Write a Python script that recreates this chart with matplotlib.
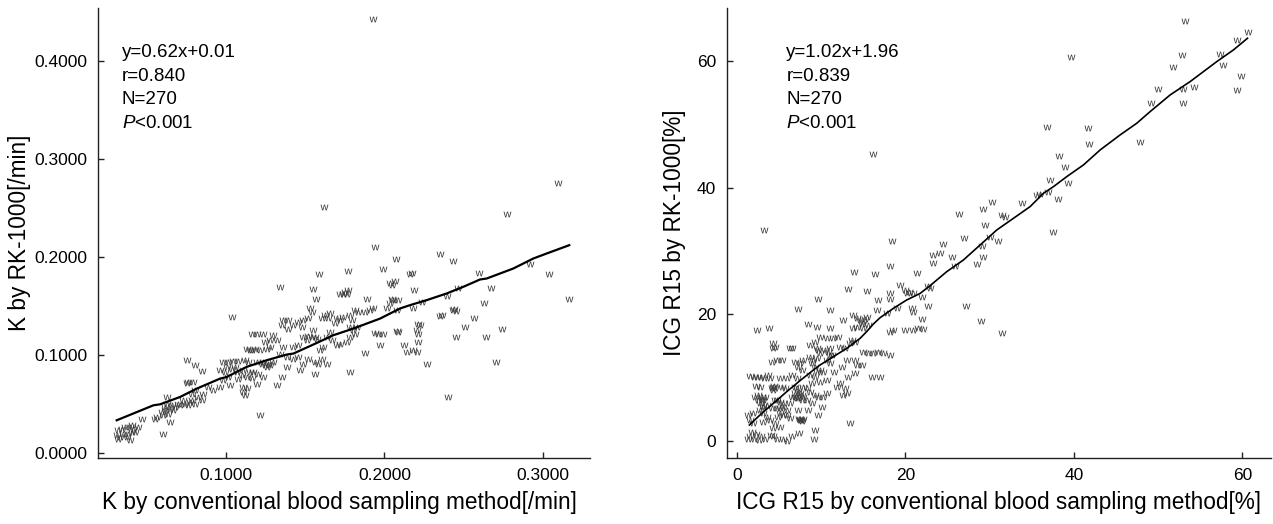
import numpy as np
import matplotlib
matplotlib.use("Agg")
import matplotlib.pyplot as plt

plt.rcParams['font.family'] = ['Liberation Sans', 'DejaVu Sans']
plt.rcParams['mathtext.fontset'] = 'custom'
plt.rcParams['mathtext.rm'] = 'Liberation Sans'
plt.rcParams['mathtext.it'] = 'Liberation Sans:italic'

# ---------------- data: left panel (K value) ----------------
k_points = [
    (0.1036,0.1387),(0.1162,0.1217),(0.1130,0.1064),(0.1162,0.1047),(0.0752,0.0945),(0.0804,0.0894),
    (0.0846,0.0836),(0.0983,0.0928),(0.1015,0.0928),(0.1046,0.0938),(0.1078,0.0935),(0.1120,0.0945),
    (0.1141,0.0928),(0.0962,0.0843),(0.0994,0.0826),(0.1036,0.0860),(0.1067,0.0826),(0.1099,0.0792),
    (0.1130,0.0775),(0.1162,0.0768),(0.1015,0.0775),(0.1078,0.0758),(0.0983,0.0741),(0.1130,0.0666),
    (0.1120,0.0587),(0.1025,0.0690),(0.0962,0.0672),(0.0920,0.0638),(0.0889,0.0672),(0.0857,0.0604),
    (0.0825,0.0570),(0.0783,0.0536),(0.0762,0.0724),(0.0794,0.0724),(0.0752,0.0714),(0.0804,0.0638),
    (0.0783,0.0604),(0.0804,0.0502),(0.0846,0.0536),(0.0731,0.0536),(0.0741,0.0502),(0.0699,0.0502),
    (0.0626,0.0570),(0.0626,0.0502),(0.0615,0.0434),(0.0657,0.0485),(0.0636,0.0400),(0.0678,0.0468),
    (0.0710,0.0485),(0.0594,0.0417),(0.0605,0.0383),(0.0552,0.0349),(0.0563,0.0366),(0.0647,0.0315),
    (0.0605,0.0196),(0.0468,0.0349),(0.0447,0.0264),(0.0394,0.0264),(0.0405,0.0213),(0.0384,0.0196),
    (0.0342,0.0247),(0.0321,0.0230),(0.0310,0.0179),(0.0331,0.0162),(0.0373,0.0162),(0.0394,0.0135),
    (0.0321,0.0145),(0.0415,0.0247),(0.0426,0.0213),(0.0352,0.0196),(0.0363,0.0264),(0.0405,0.0281),
    (0.0647,0.0451),(0.0668,0.0434),(0.0615,0.0468),(0.0773,0.0519),(0.0762,0.0485),(0.1109,0.0843),
    (0.1151,0.0826),(0.1057,0.0877),(0.1004,0.0877),
    (0.1940,0.2102),(0.2070,0.1983),(0.1993,0.1871),(0.2161,0.1830),(0.2175,0.1837),(0.1767,0.1857),
    (0.1587,0.1830),(0.1341,0.1694),(0.1551,0.1677),(0.1566,0.1568),(0.1719,0.1619),(0.1751,0.1643),
    (0.1772,0.1660),(0.1761,0.1626),(0.1740,0.1626),(0.1887,0.1575),(0.2035,0.1738),(0.2066,0.1755),
    (0.2045,0.1711),(0.2188,0.1660),(0.2045,0.1575),(0.2056,0.1558),(0.2087,0.1558),(0.2035,0.1524),
    (0.2014,0.1473),(0.2077,0.1456),(0.2235,0.1541),(0.1530,0.1483),(0.1541,0.1439),(0.1519,0.1381),
    (0.1656,0.1428),(0.1625,0.1405),(0.1646,0.1371),(0.1604,0.1381),(0.1698,0.1371),(0.1719,0.1354),
    (0.1688,0.1326),(0.1740,0.1388),(0.1782,0.1405),(0.1814,0.1456),(0.1835,0.1439),(0.1877,0.1439),
    (0.1908,0.1456),(0.1930,0.1483),(0.1782,0.1285),(0.1803,0.1251),(0.1824,0.1285),(0.1793,0.1354),
    (0.1362,0.1360),(0.1393,0.1354),(0.1351,0.1302),(0.1393,0.1268),(0.1425,0.1302),(0.1456,0.1336),
    (0.1488,0.1354),(0.1477,0.1285),(0.1193,0.1217),(0.1236,0.1217),(0.1299,0.1200),(0.1278,0.1149),
    (0.1246,0.1132),(0.1320,0.1149),(0.1488,0.1183),(0.1519,0.1190),(0.1541,0.1183),(0.1562,0.1183),
    (0.1572,0.1166),(0.1509,0.1149),(0.1551,0.1251),(0.1656,0.1234),(0.1635,0.1183),(0.1667,0.1149),
    (0.1719,0.1115),(0.1761,0.1132),(0.1698,0.1098),(0.1782,0.1183),(0.1814,0.1210),(0.1940,0.1224),
    (0.1961,0.1217),(0.1993,0.1217),(0.1972,0.1098),(0.1877,0.1020),(0.2077,0.1244),(0.2087,0.1234),
    (0.2214,0.1319),(0.2224,0.1302),(0.2203,0.1251),(0.2214,0.1217),(0.2214,0.1132),(0.2182,0.1047),
    (0.2140,0.1030),(0.2123,0.1098),(0.2203,0.1030),(0.1151,0.1047),(0.1183,0.1064),(0.1215,0.1054),
    (0.1257,0.1064),(0.1278,0.1081),(0.1193,0.0928),(0.1225,0.0911),(0.1246,0.0894),(0.1267,0.0911),
    (0.1299,0.0928),(0.1257,0.0877),(0.1236,0.0928),(0.1278,0.0894),(0.1172,0.0826),(0.1204,0.0809),
    (0.1236,0.0775),(0.1193,0.0707),(0.1351,0.0775),(0.1320,0.0690),(0.1383,0.0877),(0.1425,0.0962),
    (0.1456,0.0979),(0.1467,0.0843),(0.1488,0.0911),(0.1519,0.0962),(0.1562,0.0928),(0.1583,0.0911),
    (0.1604,0.0962),(0.1635,0.0911),(0.1562,0.0809),(0.1593,0.1047),(0.1614,0.1081),(0.1782,0.0826),
    (0.1456,0.1098),(0.1425,0.1081),(0.1362,0.1081),(0.1341,0.1013),(0.1383,0.0979),
    (0.1215,0.0390),(0.1110,0.0620),(0.1110,0.0670),(0.2182,0.1483),
    (0.3092,0.2756),(0.2771,0.2436),(0.2350,0.2034),(0.2434,0.1956),(0.2598,0.1840),(0.2918,0.1932),
    (0.3038,0.1823),(0.3166,0.1568),(0.2672,0.1684),(0.2630,0.1524),(0.2466,0.1687),(0.2392,0.1599),
    (0.2434,0.1460),(0.2450,0.1446),(0.2440,0.1470),(0.2350,0.1394),(0.2360,0.1405),(0.2565,0.1377),
    (0.2508,0.1285),(0.2739,0.1261),(0.2451,0.1183),(0.2640,0.1183),(0.2704,0.0925),(0.2403,0.0570),
    (0.2266,0.0911),(0.1929,0.4425),(0.1620,0.2505),
]
k_fit_x = [0.0310,0.0542,0.0584,0.0710,0.0815,0.0962,0.1004,0.1130,0.1257,0.1383,0.1425,0.1551,
           0.1677,0.1803,0.1972,0.2098,0.2161,0.2266,0.2392,0.2497,0.2603,0.2645,0.2813,0.2939,
           0.3023,0.3166]
k_fit_y = [0.0332,0.0485,0.0495,0.0570,0.0655,0.0757,0.0774,0.0877,0.0945,0.1003,0.1013,0.1105,
           0.1200,0.1268,0.1370,0.1473,0.1507,0.1558,0.1626,0.1694,0.1769,0.1779,0.1881,0.1983,
           0.2034,0.2119]
k_stats = ["y=0.62x+0.01", "r=0.840", "N=270", r"$\it{P}$<0.001"]
k_xticks = [0.1, 0.2, 0.3]
k_yticks = [0.0, 0.1, 0.2, 0.3, 0.4]

# ---------------- data: right panel (ICG R15) ----------------
r15_points = [
    (1.3,0.3),(1.8,1.5),(2.0,0.3),(2.3,1.2),(2.6,0.2),(3.3,0.3),(4.3,0.8),(4.7,0.3),(5.5,0.3),(5.9,0.1),
    (7.3,1.3),(9.1,0.3),(9.3,1.8),(2.8,0.9),(6.5,0.8),(1.6,0.9),(4.0,1.0),
    (1.35,4.15),(1.94,4.41),(1.54,3.36),(1.94,2.83),(3.13,4.41),(3.52,3.88),(3.13,3.1),(3.92,3.36),
    (4.51,2.83),(4.31,2.04),(5.1,2.3),(4.91,3.88),(5.1,4.41),(5.9,4.15),(6.29,3.62),(7.48,3.46),
    (7.68,3.25),(7.35,3.5),(7.6,3.4),(7.8,3.5),(7.5,3.3),(9.66,4.15),(13.42,2.94),
    (2.14,7.04),(2.53,7.3),(2.93,7.04),(3.13,6.51),(2.73,5.98),(3.13,5.46),(3.33,7.04),(4.51,6.51),
    (4.71,5.2),(6.89,7.04),(7.28,6.77),(7.68,6.51),(7.88,7.04),(10.05,5.46),(10.25,7.04),(9.66,7.04),
    (9.27,7.3),(8.67,7.82),(6.29,5.98),(5.5,5.46),(3.52,5.72),(4.12,5.2),(2.53,6.5),(2.93,6.5),
    (3.13,5.5),(2.73,4.9),(4.71,6.5),(5.1,6.25),(5.5,5.99),(5.1,5.2),(5.9,4.9),(5.5,4.15),(6.49,7.04),
    (6.89,7.57),(7.09,6.78),(8.27,6.5),(8.87,6.0),(8.47,4.95),(7.28,4.95),
    (2.2,8.7),(2.7,8.5),(3.92,9.93),(4.12,8.35),(4.31,8.09),(4.51,8.35),(4.24,8.6),(4.4,8.7),(5.1,9.93),
    (5.9,9.93),(5.31,8.6),(5.7,8.35),(6.89,8.6),(7.09,8.35),(7.28,7.82),(7.48,7.56),(7.68,7.3),
    (7.88,8.6),(8.27,8.35),(10.65,7.56),(11.84,8.6),(12.23,9.14),(12.83,8.35),(12.63,7.3),(13.03,7.56),
    (1.5,10.3),(2.0,10.2),(2.4,10.1),(2.8,10.2),(3.2,10.0),(3.72,10.45),(6.49,10.45),(7.09,9.93),
    (8.67,10.45),(9.27,10.19),(9.86,9.4),(8.87,9.14),(10.65,9.66),
    (9.46,14.65),(9.66,14.39),(10.85,14.13),(11.05,13.6),(12.23,14.92),(12.83,14.65),(4.12,12.55),
    (4.71,12.82),(5.31,12.82),(6.89,12.55),(7.48,12.29),(7.88,12.82),(7.28,11.76),(7.68,11.24),
    (8.67,13.34),(9.07,12.82),(9.46,13.08),(8.87,12.29),(9.27,11.76),(9.86,11.24),(9.46,10.98),
    (10.25,10.98),(10.65,12.82),(11.05,12.29),(9.86,13.87),(14.01,12.82),(14.21,12.03),(14.8,12.03),
    (14.01,10.71),(15.99,10.08),(16.98,10.19),(15.0,14.13),(15.6,13.87),(16.2,13.87),(16.78,14.13),
    (17.38,13.87),(18.17,13.6),(12.43,11.76),(13.03,12.82),(13.2,10.2),(11.5,11.0),
    (4.31,14.65),(4.51,14.92),(6.49,14.65),(9.86,16.49),(10.65,16.23),(11.44,16.23),(12.04,16.39),
    (13.62,15.97),(14.01,15.7),(13.42,15.44),(8.47,18.44),(9.46,18.07),(11.05,17.81),(12.63,19.12),
    (13.82,19.91),(14.21,19.38),(14.61,19.12),(15.0,18.86),(15.4,19.65),(14.21,18.07),(15.0,17.81),
    (15.6,18.33),(13.82,17.81),(2.34,17.55),(3.84,17.91),(9.26,15.71),(10.45,14.4),(11.05,14.66),
    (11.24,13.61),(4.3,15.45),(6.3,14.66),(8.67,15.19),(14.8,18.5),(15.2,19.3),
    (18.17,27.63),(13.89,26.64),(16.39,26.37),(21.34,26.58),(13.22,23.96),(15.40,23.69),(19.36,24.64),
    (20.47,23.59),(18.17,23.33),(16.78,22.28),(18.17,22.38),(9.66,22.38),(7.20,20.80),(11.05,20.70),
    (16.59,20.70),(17.77,20.28),(20.15,23.33),(20.86,23.33),(20.74,20.96),(20.86,20.43),(18.96,20.96),
    (19.95,17.55),(20.94,17.55),(21.54,17.81),(18.17,17.28),(18.57,17.55),
    (36.77,49.49),(38.28,44.97),(38.95,43.29),(37.17,41.19),(39.35,40.77),(38.16,38.25),(35.59,38.83),
    (35.98,38.98),(36.97,39.35),(37.57,33.05),(30.32,37.78),(29.17,36.57),(31.43,35.67),(31.83,35.31),
    (33.81,37.51),(26.36,35.78),(29.45,34.1),(27.0,32.1),(30.04,32.15),(31.03,31.63),(29.05,30.79),
    (29.17,29.11),(28.54,27.95),(24.5,31.1),(23.24,29.37),(24.11,29.63),(23.31,28.16),(25.49,29.0),
    (25.89,27.63),(18.37,31.63),(19.95,23.85),(22.72,24.48),(22.92,24.12),(21.93,22.8),(22.72,21.33),
    (27.19,21.33),(21.93,19.23),(28.98,18.96),(31.43,17.02),(22.13,17.65),
    (53.2,66.3),(39.6,60.53),(52.81,60.9),(51.82,59.06),(60.72,64.58),(59.34,63.26),(57.36,61.06),
    (57.68,59.32),(59.81,57.59),(59.42,55.38),(50.04,55.59),(53.0,55.49),(54.27,55.8),(49.17,53.38),
    (52.93,53.38),(41.64,49.44),(41.84,46.87),(47.86,47.13),
    (16.2,45.3),(3.2,33.3),
]
r15_fit_x = [1.47,2.73,4.31,5.9,7.48,9.07,9.86,11.44,13.03,14.61,15.4,16.2,17.0,18.57,20.15,21.73,
             22.92,24.9,26.88,28.86,30.84,32.82,34.8,36.38,37.57,39.15,41.13,43.11,45.48,47.46,
             49.05,51.42,53.8,56.17,56.96,58.94,60.61]
r15_fit_y = [2.57,4.15,5.98,7.82,9.56,11.24,12.03,13.34,14.65,16.23,17.3,18.5,19.5,20.96,22.28,
             23.3,24.53,26.74,28.58,30.94,33.31,35.15,36.99,39.09,40.14,41.72,43.56,45.92,48.29,
             50.13,51.97,54.59,56.7,59.06,59.85,61.69,63.53]
r15_stats = ["y=1.02x+1.96", "r=0.839", "N=270", r"$\it{P}$<0.001"]
r15_ticks = [0, 20, 40, 60]

# ---------------- figure ----------------
W, H = 1273, 524
fig = plt.figure(figsize=(W / 100, H / 100), dpi=100)
bottom = (H - 458.3) / H
height = (458.3 - 8) / H
ax1 = fig.add_axes([98.3 / W, bottom, (590 - 98.3) / W, height])
ax2 = fig.add_axes([727 / W, bottom, (1271 - 727) / W, height])

marker = r'$\mathrm{w}$'
mcolor = '#3c3c3c'
label_fs = 16.3

def style(ax):
    for s in ('top', 'right'):
        ax.spines[s].set_visible(False)
    for s in ('left', 'bottom'):
        ax.spines[s].set_linewidth(1.0)
        ax.spines[s].set_color('#222222')
    ax.tick_params(axis='both', direction='in', length=4, width=1.0,
                   labelsize=12.5, colors='#222222')
    ax.tick_params(axis='x', pad=7)
    ax.tick_params(axis='y', pad=8)
    for lab in ax.get_xticklabels() + ax.get_yticklabels():
        lab.set_color('black')

# left panel
kp = np.array(k_points)
ax1.scatter(kp[:, 0], kp[:, 1], marker=marker, s=32, c=mcolor, linewidths=0)
ax1.plot(k_fit_x, k_fit_y, color='black', lw=1.6)
ax1.set_xlim(0.0194, 0.3297)
ax1.set_ylim(-0.0056, 0.454)
ax1.set_xticks(k_xticks)
ax1.set_xticklabels([f"{v:.4f}" for v in k_xticks])
ax1.set_yticks(k_yticks)
ax1.set_yticklabels([f"{v:.4f}" for v in k_yticks])
style(ax1)
ax1.set_xlabel("K by conventional blood sampling method[/min]", fontsize=label_fs)
ax1.set_ylabel("K by RK-1000[/min]", fontsize=label_fs)
ax1.xaxis.set_label_coords(0.49, -0.072)
ax1.yaxis.set_label_coords(-0.137, 0.5)
for i, t in enumerate(k_stats):
    ax1.text(0.0476, 0.8905 - i * 0.0521, t, transform=ax1.transAxes,
             fontsize=13.5, va='baseline', ha='left')

# right panel
rp = np.array(r15_points)
ax2.scatter(rp[:, 0], rp[:, 1], marker=marker, s=32, c=mcolor, linewidths=0)
ax2.plot(r15_fit_x, r15_fit_y, color='black', lw=1.2)
ax2.set_xlim(-1.19, 63.4)
ax2.set_ylim(-2.68, 68.3)
ax2.set_xticks(r15_ticks)
ax2.set_yticks(r15_ticks)
style(ax2)
ax2.set_xlabel("ICG R15 by conventional blood sampling method[%]", fontsize=label_fs)
ax2.set_ylabel("ICG R15 by RK-1000[%]", fontsize=label_fs)
ax2.xaxis.set_label_coords(0.5, -0.072)
ax2.yaxis.set_label_coords(-0.075, 0.5)
for i, t in enumerate(r15_stats):
    ax2.text(0.109, 0.8905 - i * 0.0521, t, transform=ax2.transAxes,
             fontsize=13.5, va='baseline', ha='left')

fig.savefig("out.png", dpi=100)
